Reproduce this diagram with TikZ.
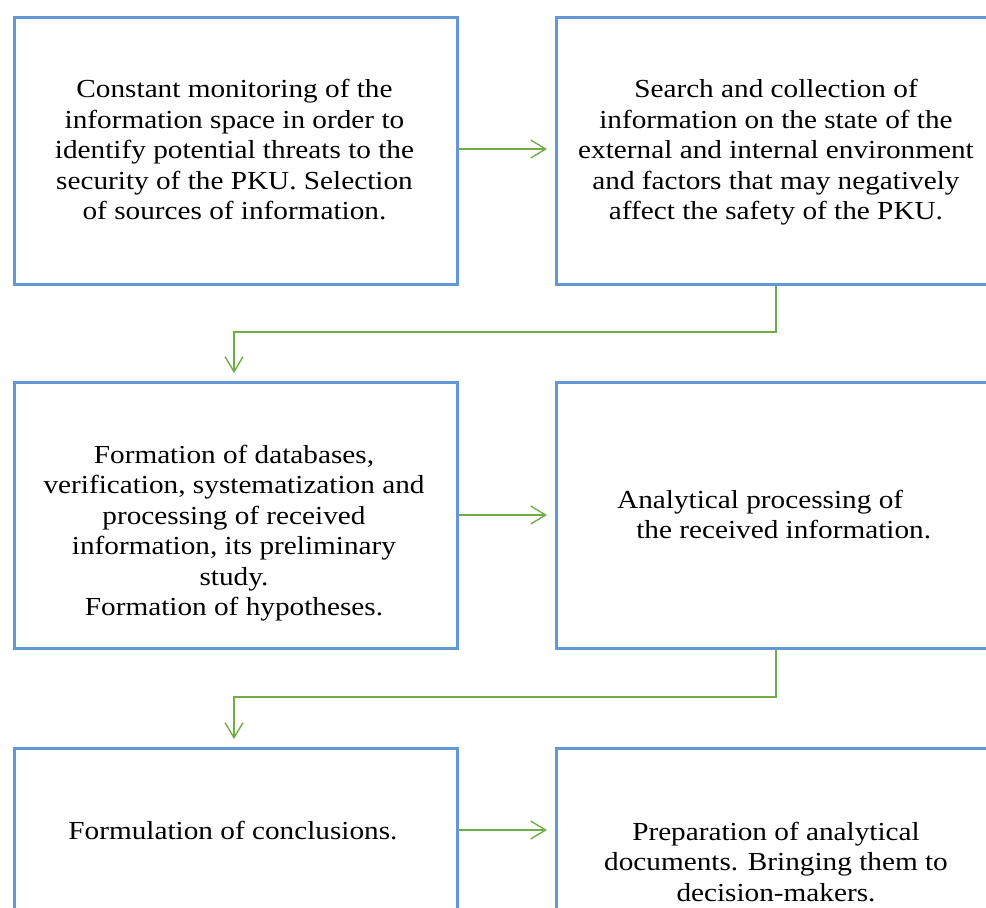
\documentclass[tikz,border=0pt]{standalone}
\usepackage{fontspec}
\usepackage{graphicx}
\setmainfont{Liberation Serif}
\usetikzlibrary{arrows.meta}

\definecolor{boxblue}{RGB}{98,152,212}
\definecolor{linkgreen}{RGB}{112,173,71}

% widened text block: centred lines, stretched horizontally
\newcommand{\stagelines}[2][c]{\scalebox{1.125}[1]{\begin{tabular}{@{}#1@{}}#2\end{tabular}}}

\tikzset{
  stagebox/.style={draw=boxblue, line width=3pt, fill=white, rectangle, anchor=north west, inner sep=0pt},
  stagetext/.style={font=\fontsize{26}{30.5}\selectfont, inner sep=0pt},
  link/.style={draw=linkgreen, line width=1.4pt, -{Straight Barb[length=15pt,width=18pt,line width=1.4pt]}, shorten >=8pt}
}

\begin{document}
\begin{tikzpicture}[x=1pt,y=-1pt]
  \clip (0,0) rectangle (986,908);
  \fill[white] (0,0) rectangle (986,908);

  % stage boxes, two columns and three rows
  \node[stagebox, minimum width=443pt, minimum height=267pt] (b1) at (13,15.5) {};
  \node[stagebox, minimum width=442pt, minimum height=267pt] (b2) at (555,15.5) {};
  \node[stagebox, minimum width=443pt, minimum height=266pt] (b3) at (13,381) {};
  \node[stagebox, minimum width=442pt, minimum height=266pt] (b4) at (555,381) {};
  \node[stagebox, minimum width=443pt, minimum height=200pt] (b5) at (13,747) {};
  \node[stagebox, minimum width=442pt, minimum height=200pt] (b6) at (555,747) {};

  % stage texts
  \renewcommand{\arraystretch}{1}
  \node[stagetext] (t1) at (234.5,152.5) {\stagelines{Constant monitoring of the\\information space in order to\\identify potential threats to the\\security of the PKU. Selection\\of sources of information.}};
  \node[stagetext] (t2) at (776,152.5) {\stagelines{Search and collection of\\information on the state of the\\external and internal environment\\and factors that may negatively\\affect the safety of the PKU.}};
  \node[stagetext] (t3) at (234,533.5) {\stagelines{Formation of databases,\\verification, systematization and\\processing of received\\information, its preliminary\\study.\\Formation of hypotheses.}};
  \node[stagetext, anchor=west] (t4) at (617,517.5) {\stagelines[l]{Analytical processing of\\\hspace*{17pt}the received information.}};
  \node[stagetext] (t5) at (233,833.5) {\stagelines{Formulation of conclusions.}};
  \node[stagetext] (t6) at (776,864.5) {\stagelines{Preparation of analytical\\documents. Bringing them to\\decision-makers.}};

  % bend points of the elbow connectors
  \coordinate (e1a) at (776,332);
  \coordinate (e1b) at (234,332);
  \coordinate (e2a) at (776,697);
  \coordinate (e2b) at (234,697);

  % connectors
  \draw[link] (b1.east |- 0,149) -- (b2.west |- 0,149);
  \draw[link] (b2.south -| e1a) -- (e1a) -- (e1b) -- (e1b |- b3.north);
  \draw[link] (b3.east |- 0,515) -- (b4.west |- 0,515);
  \draw[link] (b4.south -| e2a) -- (e2a) -- (e2b) -- (e2b |- b5.north);
  \draw[link] (b5.east |- 0,830) -- (b6.west |- 0,830);
\end{tikzpicture}
\end{document}
